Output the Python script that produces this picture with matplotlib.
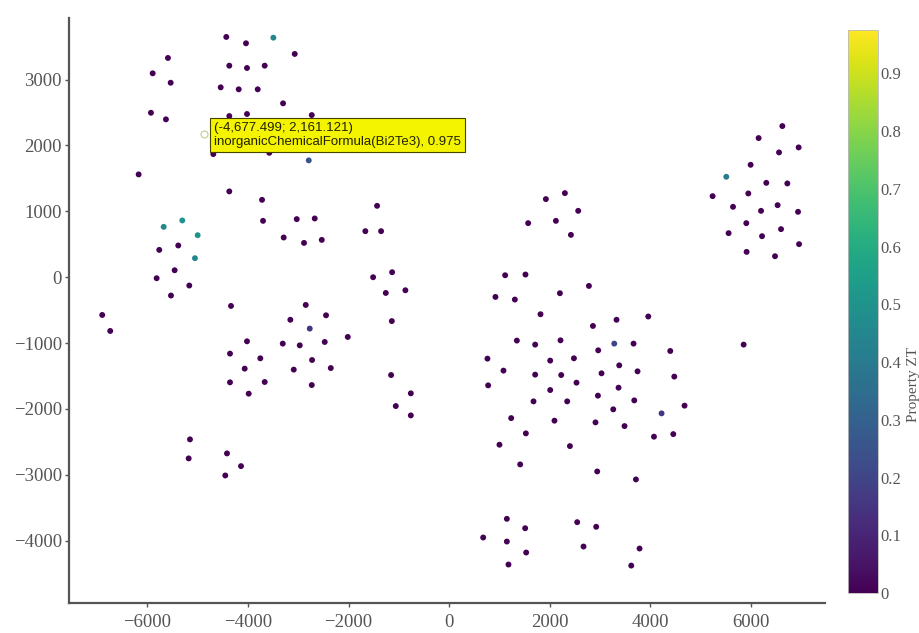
import matplotlib.pyplot as plt
import matplotlib.transforms as mtransforms
import numpy as np

# embedding coordinates (t-SNE like) and ZT value per compound
xs = [-4432, -4040, -3496, -3071, -5592, -5896, -5538, -4372, -4020, -3668,
      -4543, -4185, -3807, -3303, -5930, -5632, -4372, -4020, -2732, -4690,
      -3576, -2792, -6175, -4372, -3721, -3701, -3031, -2673, -3290, -2886,
      -2533, -1433, -1666, -1353, -1512, -1134, -1260, -870, -5677, -5307,
      -5001, -5765, -5387, -5055, -5817, -5459, -5168, -5532, -6899, -6740,
      -4338, -2852, -2448, -3158, -1140, -2772, -4020, -3309, -2971, -2474,
      -2016, -4358, -3755, -2726, -4066, -3090, -2354, -1154, -4358, -3668,
      -2732, -3986, -762, -1061, -762, -5154, -5180, -4418, -4139, -4452,
      6627, 6155, 6561, 6951, 5996, 5512, 5240, 5950, 6308, 6726,
      5646, 6203, 6533, 6939, 5910, 5558, 6223, 6601, 6959, 5916,
      6481, 5857,
      1924, 2302, 2567, 1572, 2123, 2422, 1114, 1518, 921, 1307,
      2203, 2780, 1817, 3329, 3960, 2860, 1347, 1711, 2215, 2965,
      3284, 3668, 4398, 762, 1081, 2010, 2482, 3383, 1711, 2229,
      3031, 3747, 4478, 776, 2533, 3369, 2010, 2959, 1678, 2348,
      3682, 4682, 3264, 4225, 1234, 2095, 2911, 3488, 1526, 4074,
      4458, 1001, 2402, 1413, 2945, 3715, 1148, 1512, 2547, 2925,
      677, 1148, 2673, 3787, 1532, 1180, 3622]
ys = [3648, 3552, 3637, 3390, 3329, 3096, 2953, 3212, 3177, 3212,
      2883, 2853, 2853, 2640, 2497, 2397, 2447, 2478, 2462, 1870,
      1889, 1774, 1561, 1303, 1175, 856, 882, 892, 603, 521,
      567, 1084, 699, 699, 0, 76, -239, -198, 765, 862,
      638, 415, 482, 289, -15, 106, -126, -278, -573, -816,
      -436, -421, -578, -646, -666, -780, -973, -1008, -1034, -983,
      -907, -1160, -1231, -1257, -1388, -1403, -1379, -1485, -1596, -1591,
      -1637, -1768, -1763, -1956, -2098, -2462, -2751, -2675, -2868, -3010,
      2295, 2113, 1895, 1971, 1707, 1525, 1231, 1272, 1433, 1424,
      1069, 1008, 1094, 993, 821, 669, 623, 730, 502, 385,
      319, -1023,
      1186, 1277, 1008, 821, 856, 643, 30, 41, -299, -339,
      -243, -132, -562, -646, -596, -740, -962, -1023, -958, -1110,
      -1008, -1008, -1120, -1236, -1418, -1266, -1231, -1338, -1479, -1485,
      -1459, -1429, -1509, -1642, -1601, -1677, -1713, -1798, -1885, -1885,
      -1870, -1950, -2006, -2067, -2139, -2178, -2204, -2260, -2371, -2421,
      -2382, -2543, -2564, -2842, -2949, -3070, -3668, -3811, -3719, -3789,
      -3952, -4013, -4089, -4119, -4180, -4362, -4378]
zt = np.zeros(len(xs))
# the few compounds that are not near zero
zt_known = {2: 0.45, 21: 0.25, 38: 0.45, 39: 0.5, 40: 0.5, 43: 0.45,
            55: 0.15, 85: 0.4, 122: 0.2, 145: 0.15}
for i, v in zt_known.items():
    zt[i] = v

hover_x, hover_y, hover_zt = -4677.499, 2161.121, 0.975
hover_name = "inorganicChemicalFormula(Bi2Te3)"

cbar_ticks = [0, 0.1, 0.2, 0.3, 0.4, 0.5, 0.6, 0.7, 0.8, 0.9]
cbar_labels = ["0", "0.1", "0.2", "0.3", "0.4", "0.5", "0.6", "0.7", "0.8", "0.9"]
x_ticks = [-6000, -4000, -2000, 0, 2000, 4000, 6000]
y_ticks = [-4000, -3000, -2000, -1000, 0, 1000, 2000, 3000]

plt.rcParams['font.family'] = ['Liberation Serif', 'DejaVu Serif']

fig = plt.figure(figsize=(9.2, 6.33), dpi=100)
ax = fig.add_axes([0.075, 0.047, 0.822, 0.925])
cax = fig.add_axes([0.9217, 0.0632, 0.0326, 0.8894])

all_x = xs + [hover_x]
all_y = ys + [hover_y]
all_c = list(zt) + [hover_zt]
sc = ax.scatter(all_x, all_y, c=all_c, cmap='viridis', vmin=0, vmax=hover_zt,
                s=18, linewidths=0, zorder=2)

ax.set_xlim(-7560, 7480)
ax.set_ylim(-4950, 3940)
ax.set_xticks(x_ticks)
ax.set_yticks(y_ticks)
for s in ['top', 'right']:
    ax.spines[s].set_visible(False)
for s in ['left', 'bottom']:
    ax.spines[s].set_color('#555555')
    ax.spines[s].set_linewidth(1.6)
ax.tick_params(colors='#555555', labelsize=13.5, length=3, width=1)
ax.tick_params(axis='x', pad=5)
ax.tick_params(axis='y', pad=2)

# hover tooltip
ax.annotate("(-4,677.499; 2,161.121)\n" + hover_name + ", " + str(hover_zt),
            xy=(hover_x, hover_y), xytext=(0, 0), textcoords='offset points',
            ha='left', va='center', fontsize=9.5, family='Liberation Sans',
            color='#222200', linespacing=1.2, zorder=5,
            bbox=dict(boxstyle='square,pad=0.3', fc='#f4f400', ec='#444400', lw=0.8))
off = mtransforms.offset_copy(ax.transData, fig=fig, x=-10, y=1, units='dots')
ax.plot(hover_x, hover_y, marker='o', ms=5, mfc='none', mec='#c8c890',
        mew=0.8, transform=off, zorder=6)

cbar = fig.colorbar(sc, cax=cax)
cbar.set_ticks(cbar_ticks)
cbar.set_ticklabels(cbar_labels)
cbar.outline.set_edgecolor('#bbbbbb')
cbar.outline.set_linewidth(0.6)
cax.tick_params(length=0, pad=2, labelsize=12, colors='#555555')
cax.set_ylabel("Property ZT", fontsize=11, color='#555555')
cax.yaxis.set_label_coords(1.96, 0.37)

fig.savefig("out.png", dpi=100)
